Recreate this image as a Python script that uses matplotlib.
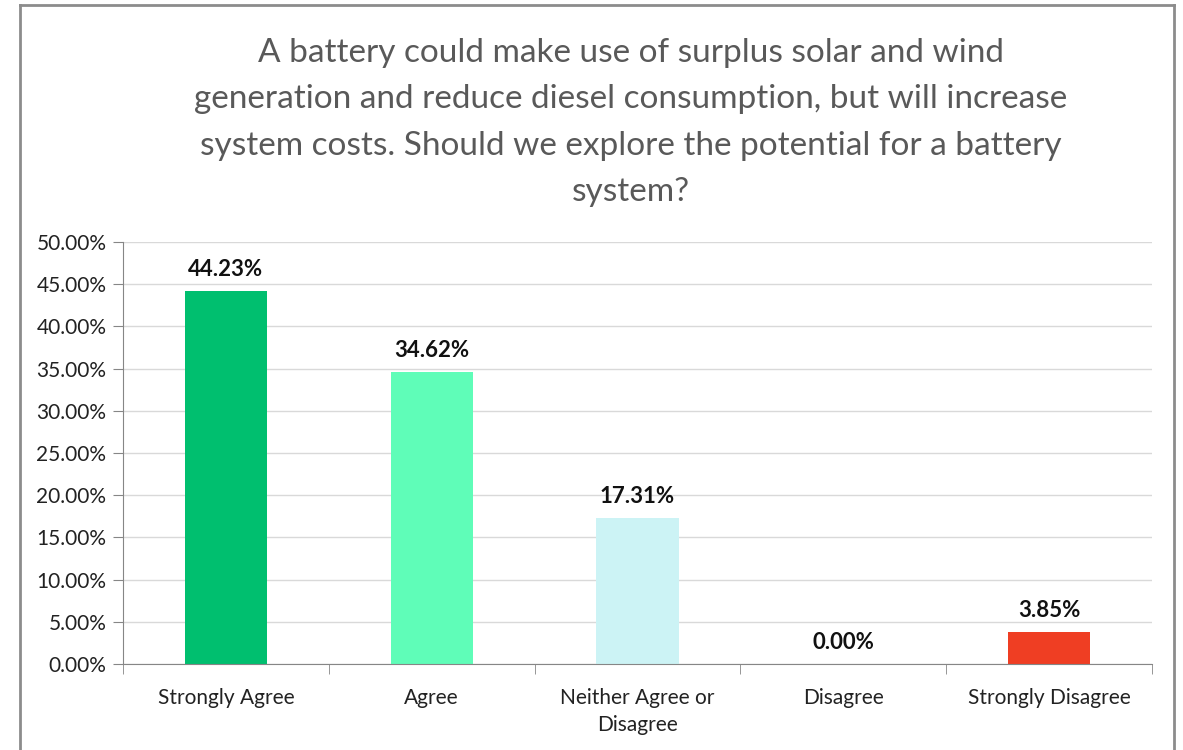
# coding: utf-8
"""Survey result: battery system bar chart."""

import numpy as np
from matplotlib import pyplot as plt
from matplotlib.lines import Line2D
from matplotlib.ticker import FuncFormatter, MultipleLocator

categories = ["Strongly Agree", "Agree", "Neither Agree or\nDisagree",
              "Disagree", "Strongly Disagree"]
values = [44.23, 34.62, 17.31, 0.00, 3.85]
colors = ["#00BF6F", "#5FFDB8", "#CCF3F5", "#00BF6F", "#EF3E23"]
title = ("A battery could make use of surplus solar and wind\n"
         "generation and reduce diesel consumption, but will increase\n"
         "system costs. Should we explore the potential for a battery\n"
         "system?")

plt.rcParams["font.family"] = ["Lato", "DejaVu Sans"]

# Figure
fig = plt.figure(figsize=(11.83, 7.5), dpi=100)
ax = fig.add_axes([123 / 1183, 1 - 664 / 750, 1029 / 1183, 422 / 750])

# Bars
x = np.arange(len(categories))
ax.bar(x, values, width=0.4, color=colors, zorder=2)
for xi, v in zip(x, values):
    ax.text(xi, v + 1.3, f"{v:.2f}%", ha="center", va="bottom",
            fontsize=16, fontweight="bold", color="#111111")

# Axes
ax.set_xlim(-0.5, len(categories) - 0.5)
ax.set_ylim(0, 50)
ax.yaxis.set_major_locator(MultipleLocator(5))
ax.yaxis.set_major_formatter(FuncFormatter(lambda v, _: f"{v:.2f}%"))
ax.grid(axis="y", color="#D9D9D9", lw=1, zorder=0)
ax.set_xticks(x)
ax.set_xticklabels(categories, fontsize=15, color="#222222",
                   linespacing=1.45)
ax.set_xticks(np.arange(len(categories) + 1) - 0.5, minor=True)
ax.tick_params(axis="x", which="major", length=0, pad=17)
ax.tick_params(axis="x", which="minor", length=7, color="#868686")
ax.tick_params(axis="y", length=7, color="#868686", labelsize=15,
               labelcolor="#222222", pad=5)
ax.spines["top"].set_visible(False)
ax.spines["right"].set_visible(False)
ax.spines["left"].set_color("#868686")
ax.spines["bottom"].set_color("#868686")

# Title
fig.text(631 / 1183, 1 - 38 / 750, title, ha="center", va="top",
         fontsize=24, color="#595959", linespacing=1.68)

# Outer border (no bottom edge)
border = dict(color="#8C8C8C", lw=2, transform=fig.transFigure)
fig.add_artist(Line2D([20 / 1183, 20 / 1183], [0, 1 - 5 / 750], **border))
fig.add_artist(Line2D([20 / 1183, 1174 / 1183], [1 - 5 / 750, 1 - 5 / 750], **border))
fig.add_artist(Line2D([1174 / 1183, 1174 / 1183], [0, 1 - 5 / 750], **border))

fig.savefig("out.png", dpi=100)
